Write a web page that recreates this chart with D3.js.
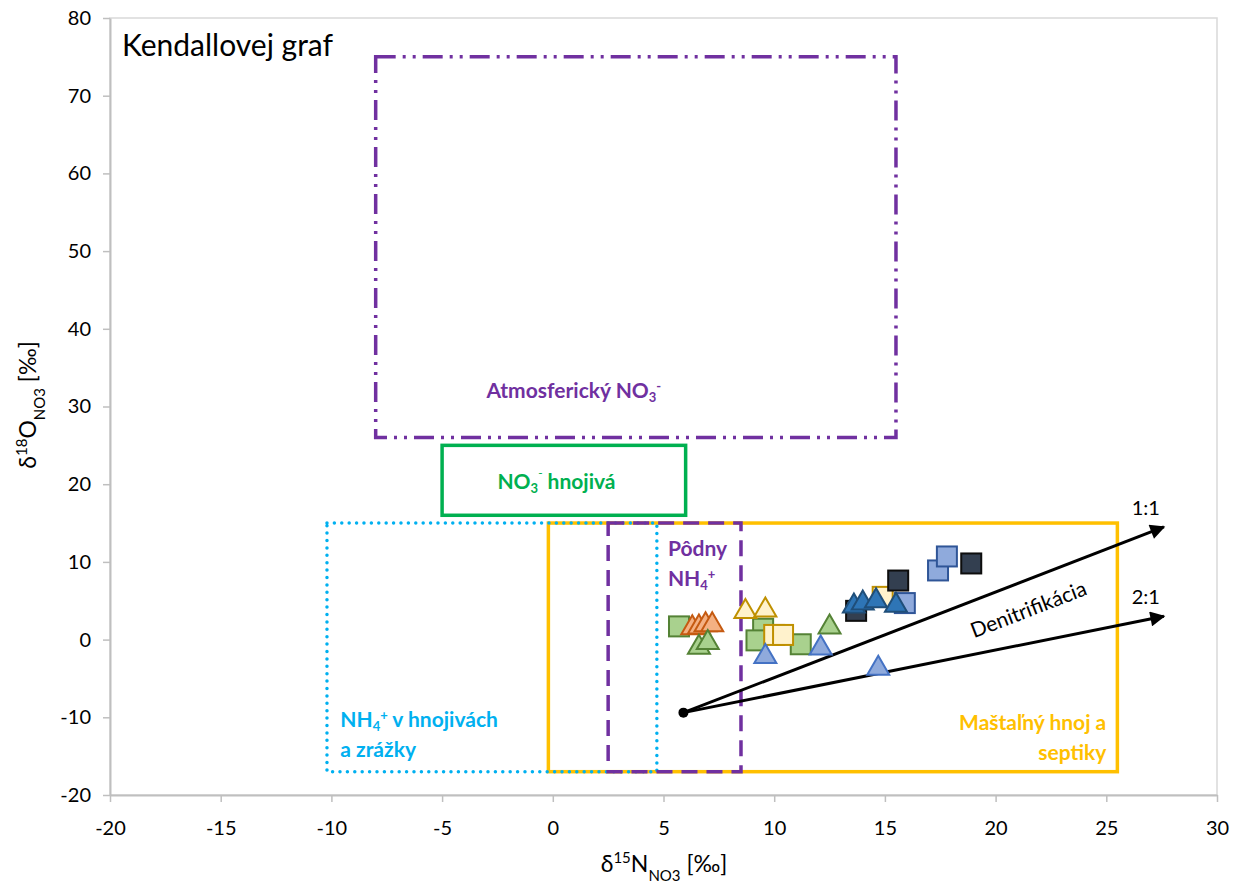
<!DOCTYPE html>
<html>
<head>
<meta charset="utf-8">
<script src="https://cdn.jsdelivr.net/npm/d3@7"></script>
<style>
  html, body { margin: 0; padding: 0; background: #fff; }
  svg { display: block; font-family: Lato, "Open Sans", sans-serif; }
</style>
</head>
<body>
<svg id="chart" width="1235" height="884"></svg>
<script>
// ---------- data ----------
const xTicks = [-20, -15, -10, -5, 0, 5, 10, 15, 20, 25, 30];
const yTicks = [-20, -10, 0, 10, 20, 30, 40, 50, 60, 70, 80];

const greenSquares       = [[5.7, 1.7], [9.5, 1.4], [9.2, -0.1], [11.2, -0.6]];
const orangeTriangles    = [[6.3, 1.9], [6.6, 2.0], [6.9, 2.3], [7.2, 2.3]];
const greenTriangles     = [[6.6, -0.6], [7.0, 0.0], [12.5, 2.0]];
const yellowSquares      = [[14.9, 5.5], [10.0, 0.6], [10.4, 0.6]];
const yellowTriangles    = [[8.7, 4.0], [9.6, 4.2]];
const lightBlueSquares   = [[15.9, 4.7], [17.4, 8.9], [17.8, 10.7]];
const darkSquares        = [[13.7, 3.7], [15.6, 7.6], [18.9, 9.8]];
const lightBlueTriangles = [[9.6, -1.8], [12.1, -0.7], [14.7, -3.3]];
const darkBlueTriangles  = [[13.6, 4.7], [14.0, 5.1], [14.6, 5.4], [15.5, 4.8]];

// source boxes: [x0, x1, y0, y1] in ‰
const boxAtmos   = [-8, 15.5, 26, 75];
const boxNO3fert = [-5, 6, 16, 25];
const boxNH4fert = [-10.2, 4.7, -17, 15];
const boxManure  = [-0.2, 25.5, -17, 15];
const boxSoil    = [2.5, 8.5, -17, 15];

const arrowStart = [5.9, -9.4];
const arrowEnds  = [[27.6, 14.5], [27.6, 3.0]];
const arrowLabels = ["1:1", "2:1"];

// ---------- layout ----------
const svg = d3.select("#chart");
const x = d3.scaleLinear().domain([-20, 30]).range([110, 1217]);
const y = d3.scaleLinear().domain([-20, 80]).range([795, 18]);
const gridCol = "#BFBFBF";

// plot border
svg.append("rect").attr("x", x(-20)).attr("y", y(80))
  .attr("width", x(30) - x(-20)).attr("height", y(-20) - y(80))
  .attr("fill", "none").attr("stroke", "#D9D9D9").attr("stroke-width", 1.5);

// axes
const fmt = d => String(d);
const xAxis = svg.append("g").attr("transform", `translate(0,${y(-20)})`)
  .call(d3.axisBottom(x).tickValues(xTicks).tickFormat(fmt).tickSize(7).tickPadding(30).tickSizeOuter(0));
const yAxis = svg.append("g").attr("transform", `translate(${x(-20)},0)`)
  .call(d3.axisLeft(y).tickValues(yTicks).tickFormat(fmt).tickSize(7).tickPadding(12).tickSizeOuter(0));
[xAxis, yAxis].forEach(g => {
  g.select(".domain").attr("stroke", gridCol).attr("stroke-width", 2);
  g.selectAll(".tick line").attr("stroke", gridCol).attr("stroke-width", 1.5);
  g.selectAll(".tick text").attr("fill", "#000").style("font-size", "20px")
    .style("font-family", "Lato, 'Open Sans', sans-serif");
});
xAxis.selectAll(".tick text").attr("dy", "0.15em");

// axis titles
const xt = svg.append("text").attr("x", 664).attr("y", 872).attr("text-anchor", "middle")
  .style("font-size", "23px").attr("fill", "#000");
xt.append("tspan").text("δ");
xt.append("tspan").text("15").attr("baseline-shift", "super").style("font-size", "15px");
xt.append("tspan").text("N");
xt.append("tspan").text("NO3").attr("baseline-shift", "sub").style("font-size", "15px");
xt.append("tspan").text(" [‰]");

const yt = svg.append("text").attr("transform", "translate(36,405) rotate(-90)").attr("text-anchor", "middle")
  .style("font-size", "23px").attr("fill", "#000");
yt.append("tspan").text("δ");
yt.append("tspan").text("18").attr("baseline-shift", "super").style("font-size", "15px");
yt.append("tspan").text("O");
yt.append("tspan").text("NO3").attr("baseline-shift", "sub").style("font-size", "15px");
yt.append("tspan").text(" [‰]");

svg.append("text").attr("x", 122).attr("y", 56).text("Kendallovej graf")
  .style("font-size", "30px").attr("fill", "#000");

// boxes
function box(b, color, width, dash, cap) {
  svg.append("rect").attr("x", x(b[0])).attr("y", y(b[3]))
    .attr("width", x(b[1]) - x(b[0])).attr("height", y(b[2]) - y(b[3]))
    .attr("fill", "none").attr("stroke", color).attr("stroke-width", width)
    .attr("stroke-dasharray", dash).attr("stroke-linecap", cap || "butt");
}
box(boxManure, "#FFC000", 3.5, null);
box(boxNH4fert, "#00B0F0", 3.5, "0,7.4", "round");
box(boxSoil, "#7030A0", 3.5, "16,9");
box(boxNO3fert, "#00B050", 3.5, null);
box(boxAtmos, "#7030A0", 3.5, "20,7,3,7,3,7");

// box labels
function label(px, py, color, anchor, parts) {
  const t = svg.append("text").attr("x", px).attr("y", py).attr("text-anchor", anchor)
    .attr("fill", color).style("font-size", "21px").style("font-weight", "bold");
  parts.forEach(p => {
    const s = t.append("tspan").text(p[0]);
    if (p[1] === "sub") s.attr("baseline-shift", "-4px").style("font-size", "13px");
    if (p[1] === "sup") s.attr("baseline-shift", "7px").style("font-size", "13px");
  });
}
label(x(-3), y(31.1), "#7030A0", "start", [["Atmosferický NO"], ["3", "sub"], ["-", "sup"]]);
label(x(-2.5), y(19.4), "#00B050", "start", [["NO"], ["3", "sub"], ["⁻", "sup"], [" hnojivá"]]);
label(x(5.2), y(10.7), "#7030A0", "start", [["Pôdny"]]);
label(x(5.2), y(6.9), "#7030A0", "start", [["NH"], ["4", "sub"], ["+", "sup"]]);
label(x(-9.6), y(-11.2), "#00B0F0", "start", [["NH"], ["4", "sub"], ["+", "sup"], [" v hnojivách"]]);
label(x(-9.6), y(-15.1), "#00B0F0", "start", [["a zrážky"]]);
label(x(25.0), y(-11.6), "#FFC000", "end", [["Maštaľný hnoj a"]]);
label(x(25.0), y(-15.5), "#FFC000", "end", [["septiky"]]);

// arrows
const defs = svg.append("defs");
defs.append("marker").attr("id", "ah").attr("viewBox", "0 0 10 10").attr("refX", 9).attr("refY", 5)
  .attr("markerWidth", 5.5).attr("markerHeight", 5).attr("orient", "auto")
  .attr("markerUnits", "strokeWidth")
  .append("path").attr("d", "M0,0 L10,5 L0,10 z").attr("fill", "#000");
arrowEnds.forEach((e, i) => {
  svg.append("line").attr("x1", x(arrowStart[0])).attr("y1", y(arrowStart[1]))
    .attr("x2", x(e[0])).attr("y2", y(e[1]))
    .attr("stroke", "#000").attr("stroke-width", 3).attr("marker-end", "url(#ah)");
  svg.append("text").attr("x", x(e[0]) - 18).attr("y", y(e[1]) - 12).attr("text-anchor", "middle")
    .text(arrowLabels[i]).style("font-size", "20px").attr("fill", "#000");
});
// small start marker where arrows meet
svg.append("circle").attr("cx", x(arrowStart[0])).attr("cy", y(arrowStart[1])).attr("r", 5).attr("fill", "#000");

const angle = Math.atan2(y(arrowEnds[0][1]) - y(arrowStart[1]), x(arrowEnds[0][0]) - x(arrowStart[0])) * 180 / Math.PI;
svg.append("text").attr("transform", `translate(${x(21.6)},${y(3.0)}) rotate(${angle})`)
  .attr("text-anchor", "middle").text("Denitrifikácia").style("font-size", "21px").attr("fill", "#000");

// markers
const S = 20, TW = 22, TH = 19;
function squares(data, fill, stroke) {
  svg.append("g").selectAll("rect").data(data).join("rect")
    .attr("x", d => x(d[0]) - S / 2).attr("y", d => y(d[1]) - S / 2)
    .attr("width", S).attr("height", S)
    .attr("fill", fill).attr("stroke", stroke).attr("stroke-width", 2);
}
function triangles(data, fill, stroke) {
  svg.append("g").selectAll("path").data(data).join("path")
    .attr("d", d => {
      const cx = x(d[0]), cy = y(d[1]);
      return `M${cx},${cy - TH / 2} L${cx + TW / 2},${cy + TH / 2} L${cx - TW / 2},${cy + TH / 2} Z`;
    })
    .attr("fill", fill).attr("stroke", stroke).attr("stroke-width", 2).attr("stroke-linejoin", "miter");
}
squares(greenSquares, "#A9D18E", "#548235");
triangles(orangeTriangles, "#F4B183", "#C55A11");
triangles(greenTriangles, "#A9D18E", "#548235");
squares(yellowSquares, "#FFF2CC", "#BF9000");
triangles(yellowTriangles, "#FFF2CC", "#BF9000");
squares(lightBlueSquares, "#8FAADC", "#2F5597");
squares(darkSquares, "#333F50", "#0D0D0D");
triangles(lightBlueTriangles, "#8FAADC", "#4472C4");
triangles(darkBlueTriangles, "#2E75B6", "#1F4E79");
</script>
</body>
</html>
